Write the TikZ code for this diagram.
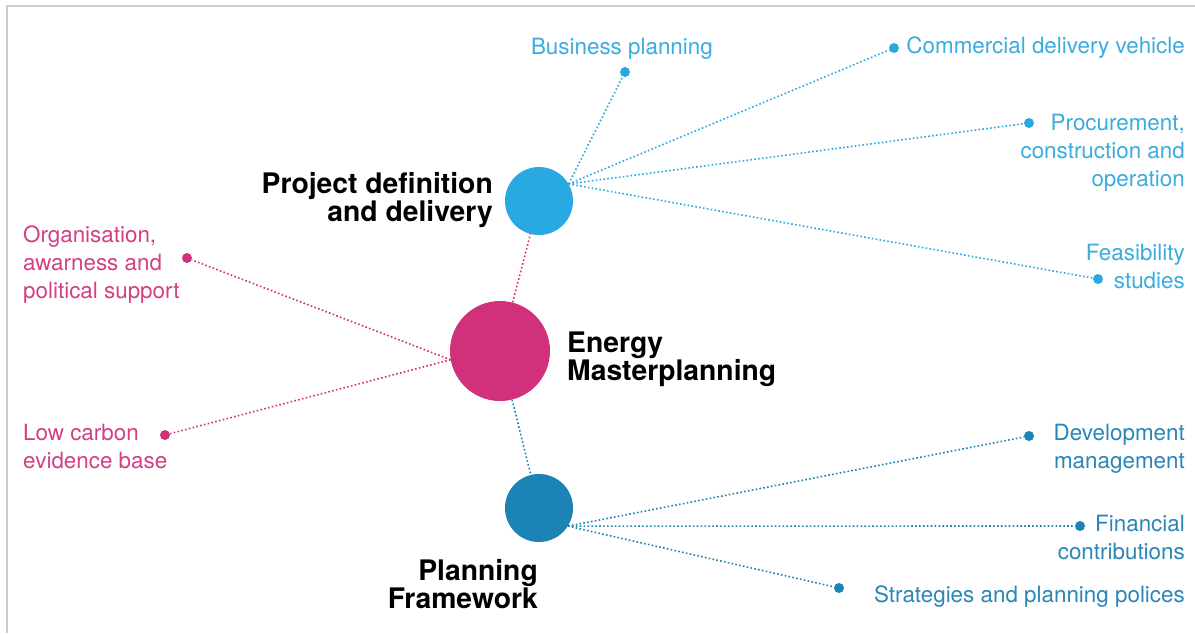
\documentclass[tikz,border=0pt]{standalone}
\usepackage{fontspec}
\setmainfont{TeX Gyre Heros}
\definecolor{cyanc}{HTML}{29A9E1}
\definecolor{cyant}{HTML}{3AACDF}
\definecolor{magc}{HTML}{D1317A}
\definecolor{magt}{HTML}{D43F84}
\definecolor{dblue}{HTML}{1B83B5}
\definecolor{dbluet}{HTML}{2A86B7}
\definecolor{frame}{HTML}{CCCCCC}
\tikzset{
  bigdisc/.style={circle, inner sep=0pt, minimum size=#1},
  dotpt/.style={circle, inner sep=0pt, minimum size=10pt},
  dotline/.style={line width=1.6pt, dash pattern=on 1.6pt off 2.3pt},
  lbl/.style={inner sep=0pt, font=\fontsize{22.4}{28}\selectfont},
  bold/.style={inner sep=0pt, font=\fontsize{28.3}{28}\selectfont\bfseries, text=black},
}
\begin{document}
\begin{tikzpicture}[x=1pt,y=-1pt]
\useasboundingbox (0,0) rectangle (1195,633);
\fill[white] (0,0) rectangle (1195,633);
\draw[frame, line width=2pt] (7,633) -- (7,6) -- (1195,6);

% main discs
\node[bigdisc=68pt, fill=cyanc] (ptop) at (539,201) {};
\node[bigdisc=100pt, fill=magc] (pm) at (500,351) {};
\node[bigdisc=68pt, fill=dblue] (pbot) at (539,508) {};

% end dots
\node[dotpt, fill=cyanc] (d1) at (625,72) {};
\node[dotpt, fill=cyanc] (d2) at (894,48) {};
\node[dotpt, fill=cyanc] (d3) at (1029,123) {};
\node[dotpt, fill=cyanc] (d4) at (1098,279) {};
\node[dotpt, fill=magc] (m1) at (187,258) {};
\node[dotpt, fill=magc] (m2) at (165,435) {};
\node[dotpt, fill=dblue] (b1) at (1029,436) {};
\node[dotpt, fill=dblue] (b2) at (1080,526) {};
\node[dotpt, fill=dblue] (b3) at (839,588) {};

% connectors
\draw[dotline, cyanc] (ptop.30) -- (d1);
\draw[dotline, cyanc] (ptop.30) -- (d2);
\draw[dotline, cyanc] (ptop.30) -- (d3);
\draw[dotline, cyanc] (ptop.30) -- (d4);
\draw[dotline, magc] (pm.190) -- (m1);
\draw[dotline, magc] (pm.190) -- (m2);
\draw[dotline, magc] (pm) -- (ptop);
\draw[dotline, dblue] (pm) -- (pbot);
\draw[dotline, dblue] (pbot.-32) -- (b1);
\draw[dotline, dblue] (pbot.-32) -- (b2);
\draw[dotline, dblue] (pbot.-32) -- (b3);

% bold labels
\node[bold, anchor=north east, align=right] (tproj) at (493,172.6) {Project definition\\and delivery};
\node[bold, anchor=north west, align=left] (tenergy) at (567,331.6) {Energy\\Masterplanning};
\node[bold, anchor=north east, align=right] (tplan) at (538,559.6) {Planning\\Framework};

% light blue labels
\node[lbl, text=cyant, anchor=base east] (t1) at (713,54) {Business planning};
\node[lbl, text=cyant, anchor=base east] (t2) at (1185,53) {Commercial delivery vehicle};
\node[lbl, text=cyant, anchor=north east, align=right] (t3) at (1185,113.9) {Procurement,\\construction and\\operation};
\node[lbl, text=cyant, anchor=north east, align=right] (t4) at (1185,243.9) {Feasibility\\studies};

% pink labels
\node[lbl, text=magt, anchor=north west, align=left] (t5) at (23,225.9) {Organisation,\\awarness and\\political support};
\node[lbl, text=magt, anchor=north west, align=left] (t6) at (23,423.9) {Low carbon\\evidence base};

% dark blue labels
\node[lbl, text=dbluet, anchor=north east, align=right] (t7) at (1185,423.9) {Development\\management};
\node[lbl, text=dbluet, anchor=north east, align=right] (t8) at (1185,514.9) {Financial\\contributions};
\node[lbl, text=dbluet, anchor=base east] (t9) at (1185,602) {Strategies and planning polices};
\end{tikzpicture}
\end{document}
